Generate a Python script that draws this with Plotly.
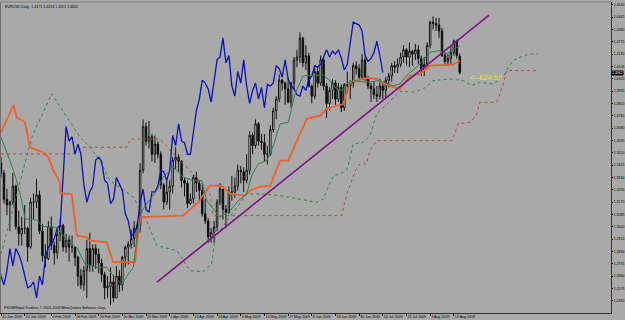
import pandas as pd
import plotly.graph_objects as go

# ---------------- data ----------------
dates = pd.bdate_range("2009-01-12", "2009-08-17")  # daily bars (weekdays)

opens = [1.3440,1.3370,1.3190,1.3150,1.3170,1.3280,1.3000,1.2950,1.2990,1.2990,
         1.2860,1.3170,1.3170,1.3220,1.2970,1.2800,1.2780,1.3000,1.2870,1.2820,
         1.2950,1.3010,1.2860,1.2910,1.2860,1.2860,1.2790,1.2660,1.2600,1.2700,
         1.2850,1.2730,1.2850,1.2810,1.2750,1.2670,1.2580,1.2590,1.2620,1.2510,
         1.2660,1.2600,1.2790,1.2860,1.2880,1.2920,1.2990,1.3010,1.3390,1.3690,
         1.3590,1.3620,1.3500,1.3570,1.3500,1.3290,1.3170,1.3240,1.3280,1.3460,
         1.3480,1.3450,1.3320,1.3300,1.3160,1.3190,1.3340,1.3300,1.3250,1.3090,
         1.3040,1.2930,1.2960,1.3000,1.3170,1.3260,1.3120,1.3100,1.3240,1.3240,
         1.3280,1.3390,1.3380,1.3320,1.3390,1.3630,1.3560,1.3710,1.3590,1.3580,
         1.3500,1.3500,1.3670,1.3800,1.3880,1.4010,1.3990,1.3950,1.3860,1.3990,
         1.4150,1.4170,1.4300,1.4130,1.4180,1.3970,1.3900,1.4070,1.3990,1.4150,
         1.3970,1.3850,1.3940,1.3990,1.3880,1.3960,1.3820,1.3980,1.3970,1.3990,
         1.4110,1.4090,1.4030,1.4150,1.4020,1.3970,1.3950,1.3910,1.3900,1.3970,
         1.3940,1.4010,1.4040,1.4110,1.4100,1.4120,1.4170,1.4220,1.4170,1.4210,
         1.4190,1.4220,1.4160,1.4080,1.4120,1.4250,1.4410,1.4400,1.4390,1.4350,
         1.4180,1.4140,1.4160,1.4200,1.4280,1.4175]
highs = [1.3480,1.3390,1.3260,1.3180,1.3370,1.3290,1.3110,1.3070,1.3150,1.3000,
         1.3200,1.3230,1.3330,1.3250,1.3020,1.2880,1.3040,1.3070,1.2900,1.2990,
         1.3050,1.3020,1.2950,1.2940,1.2940,1.2860,1.2800,1.2710,1.2730,1.2910,
         1.2960,1.2880,1.2880,1.2850,1.2780,1.2690,1.2660,1.2720,1.2670,1.2730,
         1.2700,1.2800,1.2870,1.2900,1.2980,1.3040,1.3030,1.3440,1.3740,1.3720,
         1.3730,1.3640,1.3630,1.3590,1.3520,1.3300,1.3320,1.3320,1.3480,1.3550,
         1.3500,1.3460,1.3340,1.3320,1.3230,1.3360,1.3380,1.3320,1.3290,1.3190,
         1.3060,1.2990,1.3040,1.3190,1.3300,1.3260,1.3150,1.3280,1.3350,1.3340,
         1.3430,1.3420,1.3410,1.3500,1.3660,1.3650,1.3740,1.3720,1.3640,1.3640,
         1.3560,1.3700,1.3820,1.3900,1.4050,1.4020,1.4000,1.4030,1.4000,1.4170,
         1.4220,1.4340,1.4310,1.4250,1.4200,1.3980,1.4100,1.4100,1.4180,1.4160,
         1.3990,1.3960,1.4020,1.4010,1.3990,1.3980,1.3990,1.4070,1.4010,1.4130,
         1.4140,1.4120,1.4190,1.4170,1.4040,1.3990,1.4000,1.3970,1.4020,1.4000,
         1.4030,1.4060,1.4130,1.4140,1.4160,1.4200,1.4250,1.4230,1.4270,1.4220,
         1.4260,1.4250,1.4180,1.4170,1.4270,1.4420,1.4450,1.4440,1.4440,1.4370,
         1.4200,1.4190,1.4250,1.4290,1.4290,1.4194]
lows = [1.3340,1.3160,1.3080,1.2970,1.3150,1.2980,1.2870,1.2870,1.2950,1.2760,
        1.2850,1.3050,1.3130,1.2950,1.2760,1.2720,1.2770,1.2840,1.2740,1.2780,
        1.2900,1.2830,1.2820,1.2760,1.2820,1.2730,1.2590,1.2570,1.2560,1.2510,
        1.2690,1.2690,1.2710,1.2680,1.2620,1.2500,1.2510,1.2460,1.2480,1.2510,
        1.2550,1.2560,1.2720,1.2740,1.2850,1.2860,1.2880,1.2960,1.3370,1.3560,
        1.3540,1.3450,1.3440,1.3470,1.3260,1.3120,1.3150,1.3120,1.3230,1.3400,
        1.3380,1.3270,1.3210,1.3130,1.3150,1.3160,1.3240,1.3170,1.3070,1.3020,
        1.2890,1.2890,1.2890,1.2970,1.3150,1.3050,1.2990,1.3090,1.3180,1.3200,
        1.3250,1.3300,1.3240,1.3300,1.3360,1.3500,1.3540,1.3560,1.3530,1.3450,
        1.3430,1.3490,1.3650,1.3740,1.3860,1.3940,1.3840,1.3850,1.3820,1.3950,
        1.4100,1.4130,1.4100,1.4080,1.3960,1.3850,1.3880,1.3960,1.3970,1.3940,
        1.3750,1.3800,1.3880,1.3840,1.3860,1.3790,1.3800,1.3920,1.3880,1.3960,
        1.4050,1.4010,1.4010,1.4000,1.3950,1.3860,1.3880,1.3860,1.3880,1.3880,
        1.3880,1.3960,1.4000,1.4060,1.4060,1.4100,1.4130,1.4110,1.4100,1.4110,
        1.4150,1.4120,1.4040,1.4040,1.4090,1.4230,1.4360,1.4350,1.4300,1.4170,
        1.4110,1.4110,1.4120,1.4180,1.4160,1.4051]
closes = [1.3370,1.3190,1.3150,1.3170,1.3280,1.3000,1.2950,1.2990,1.2990,1.2860,
          1.3170,1.3170,1.3220,1.2970,1.2800,1.2780,1.3000,1.2870,1.2820,1.2950,
          1.3010,1.2860,1.2910,1.2860,1.2860,1.2790,1.2660,1.2600,1.2700,1.2850,
          1.2730,1.2850,1.2810,1.2750,1.2670,1.2580,1.2590,1.2620,1.2510,1.2660,
          1.2600,1.2790,1.2860,1.2880,1.2920,1.2990,1.3010,1.3390,1.3690,1.3590,
          1.3620,1.3500,1.3570,1.3500,1.3290,1.3170,1.3240,1.3280,1.3460,1.3480,
          1.3450,1.3320,1.3300,1.3160,1.3190,1.3340,1.3300,1.3250,1.3090,1.3040,
          1.2930,1.2960,1.3000,1.3170,1.3260,1.3120,1.3100,1.3240,1.3240,1.3280,
          1.3390,1.3380,1.3320,1.3390,1.3630,1.3560,1.3710,1.3590,1.3580,1.3500,
          1.3500,1.3670,1.3800,1.3880,1.4010,1.3990,1.3950,1.3860,1.3990,1.4150,
          1.4170,1.4300,1.4130,1.4180,1.3970,1.3900,1.4070,1.3990,1.4150,1.3970,
          1.3850,1.3940,1.3990,1.3880,1.3960,1.3820,1.3980,1.3970,1.3990,1.4110,
          1.4090,1.4030,1.4150,1.4020,1.3970,1.3950,1.3910,1.3900,1.3970,1.3940,
          1.4010,1.4040,1.4110,1.4100,1.4120,1.4170,1.4220,1.4170,1.4210,1.4190,
          1.4220,1.4160,1.4080,1.4120,1.4250,1.4410,1.4400,1.4390,1.4350,1.4180,
          1.4140,1.4160,1.4200,1.4280,1.4180,1.4062]

# Ichimoku lines (bar index, price)
tenkan_x = [0,1.35,3,4.2,5.3,7,8.1,12.1,13.7,16,18.8,20.5,23.3,25.6,28.4,32.3,35.7,37.4,39.1,40.8,41.9,44.7,47,49.2,
            52.6,54.8,58.2,61.6,65,67.8,69.5,74,77.4,80.2,83,84.7,86.9,89.8,92,94.3,97.1,99.3,102.1,108.9,111.1,
            113.4,115.6,116.8,119,123.5,128,132.5,134.8,137,141.6,144.9,148.3,150.6,152.8,155]
tenkan_y = [1.3617,1.3548,1.3456,1.3387,1.3318,1.3180,1.3054,1.3047,1.3008,1.2997,1.2997,1.2951,1.2882,1.2859,
            1.2744,1.2721,1.2721,1.2675,1.2641,1.2606,1.2641,1.2721,1.3089,1.3158,1.3249,1.3342,1.3410,1.3342,
            1.3318,1.3318,1.3180,1.3066,1.3111,1.3180,1.3226,1.3352,1.3433,1.3456,1.3559,1.3709,1.3720,1.3915,
            1.4041,1.4046,1.4006,1.3950,1.3938,1.3984,1.4007,1.3996,1.4007,1.3972,1.3984,1.4041,1.4122,1.4203,
            1.4214,1.4191,1.4225,1.4248]
kijun_x = [0,4.2,5.3,8.1,9.8,14.3,16,17.7,19.9,20,23.9,25.6,29,30,35.7,37.9,45.3,47,61.6,67.2,67.8,70.6,74.6,
           77.4,82.4,84.1,87.5,90.9,94.3,97.1,101,103.3,105.5,107.8,110,115.6,117.9,123.5,126.9,129.2,132.5,
           134.8,138.2,141.6,144.9,152.7,155]
kijun_y = [1.3650,1.3840,1.3755,1.3720,1.3548,1.3514,1.3479,1.3387,1.3307,1.3231,1.3226,1.2939,1.2928,1.2905,
           1.2894,1.2756,1.2756,1.3066,1.3077,1.3180,1.3204,1.3284,1.3284,1.3226,1.3215,1.3249,1.3277,1.3281,
           1.3456,1.3456,1.3640,1.3743,1.3755,1.3766,1.3812,1.3846,1.3996,1.4026,1.4019,1.3989,1.3962,1.3950,
           1.4041,1.4053,1.4110,1.4117,1.4145]
senkou_a_x = [0,7.4,10.4,17.1,26.7,30.1,33.4,36.8,40.2,44.7,49.2,52.6,59.4,63.9,68.2,71.2,72.3,83,88.6,94.3,99.9,
              106.7,108.9,110,112.3,114.5,116.8,119,122.4,124.7,125.8,126.9,134.8,139.3,142.7,146,151.7,156.2,
              159,161.8,166.3,169.7,171.4,173.1,175.3,178.7,181.4]
senkou_a_y = [1.2810,1.3378,1.3617,1.3916,1.3617,1.3548,1.3456,1.3318,1.3272,1.3204,1.3043,1.2870,1.2836,1.2698,
              1.2689,1.2744,1.2928,1.3226,1.3226,1.3215,1.3192,1.3169,1.3192,1.3249,1.3352,1.3364,1.3387,1.3570,
              1.3582,1.3628,1.3709,1.3777,1.3934,1.3927,1.3950,1.4007,1.4019,1.4007,1.3973,1.3996,1.3984,1.4030,
              1.4099,1.4145,1.4168,1.4191,1.4191]
senkou_b_x = [0,24,27.5,32.3,42.5,43.6,53.7,61.5,63.9,68.3,70.6,71.7,115.1,116.8,120.2,121.3,123.5,124.7,126.9,
              152.4,154.4,158.8,160.7,161.8,167.5,169.7,170.8,181]
senkou_b_y = [1.3502,1.3502,1.3548,1.3548,1.3548,1.3605,1.3605,1.3433,1.3387,1.3295,1.3226,1.3077,1.3077,1.3226,
              1.3410,1.3433,1.3433,1.3525,1.3594,1.3594,1.3710,1.3722,1.3777,1.3858,1.3858,1.3984,1.4076,1.4076]
trend_x = [52.7, 164.9]
trend_y = [1.2619, 1.4459]

ytick_labels = ["1.4530","1.4445","1.4360","1.4275","1.4190","1.4105","1.4020","1.3935","1.3850","1.3765",
                "1.3680","1.3595","1.3510","1.3425","1.3340","1.3255","1.3170","1.3085","1.3000","1.2915",
                "1.2830","1.2745","1.2660","1.2575","1.2490","1.2405"]
xtick_dates = ["2009-01-12","2009-01-22","2009-02-04","2009-02-16","2009-02-26","2009-03-10","2009-03-20",
               "2009-04-01","2009-04-13","2009-04-23","2009-05-05","2009-05-15","2009-05-27","2009-06-08",
               "2009-06-18","2009-06-30","2009-07-10","2009-07-22","2009-08-03","2009-08-13"]
timer_text = "<--624:59"
chikou_shift = 26

# ---------------- figure ----------------
idx = list(range(len(dates)))
BG = "#A9A9A9"
FONT = "Liberation Sans, Arial, sans-serif"

fig = go.Figure()
fig.add_trace(go.Scatter(x=senkou_b_x, y=senkou_b_y, mode="lines",
                         line=dict(color="#A0524A", width=1, dash="dot"), hoverinfo="skip"))
fig.add_trace(go.Scatter(x=senkou_a_x, y=senkou_a_y, mode="lines",
                         line=dict(color="#3C7A4A", width=1, dash="dot"), hoverinfo="skip"))
fig.add_trace(go.Candlestick(x=idx, open=opens, high=highs, low=lows, close=closes,
                             increasing=dict(line=dict(color="#101010", width=1), fillcolor="#FFFFFF"),
                             decreasing=dict(line=dict(color="#101010", width=1), fillcolor="#000000"),
                             whiskerwidth=0, hoverinfo="skip"))
fig.add_trace(go.Scatter(x=[i - chikou_shift for i in idx], y=closes, mode="lines",
                         line=dict(color="#1010B8", width=1.3), hoverinfo="skip"))
fig.add_trace(go.Scatter(x=kijun_x, y=kijun_y, mode="lines",
                         line=dict(color="#F0602A", width=1.8), hoverinfo="skip"))
fig.add_trace(go.Scatter(x=tenkan_x, y=tenkan_y, mode="lines",
                         line=dict(color="#2E8050", width=1), hoverinfo="skip"))
fig.add_trace(go.Scatter(x=trend_x, y=trend_y, mode="lines",
                         line=dict(color="#80108A", width=1.6), hoverinfo="skip"))

xt_vals = [dates.get_loc(pd.Timestamp(d)) for d in xtick_dates]
xt_text = [f"{pd.Timestamp(d).day} {pd.Timestamp(d):%b %Y}" for d in xtick_dates]

fig.update_layout(
    width=625, height=320, margin=dict(l=0, r=14, t=2, b=7, autoexpand=False),
    paper_bgcolor=BG, plot_bgcolor=BG, showlegend=False,
    font=dict(family=FONT, size=4, color="#000000"),
    xaxis=dict(range=[-0.34, 206.1], tickmode="array", tickvals=xt_vals, ticktext=xt_text,
               tickangle=0, automargin=False,
               ticks="outside", ticklen=2, tickcolor="#000000", ticklabelposition="outside right",
               showgrid=False, zeroline=False, showline=True, linecolor="#303030", linewidth=1,
               rangeslider=dict(visible=False), tickfont=dict(size=3.6)),
    yaxis=dict(range=[1.2406, 1.4549], side="right", tickmode="array", automargin=False,
               tickvals=[float(t) for t in ytick_labels], ticktext=ytick_labels,
               ticks="outside", ticklen=1, tickcolor="#000000", showgrid=False, zeroline=False,
               showline=True, linecolor="#303030", linewidth=1, tickfont=dict(size=3.5)),
)

fig.add_annotation(text="EURUSD,Daily  1.4175 1.4194 1.4051 1.4062", xref="paper", yref="paper",
                   x=0.005, y=0.997, xanchor="left", yanchor="top", showarrow=False,
                   font=dict(size=3.6, color="#000000"))
fig.add_annotation(text="FXDM/Royal Traders, \u00a9 2001-2009 MetaQuotes Software Corp.", xref="paper",
                   yref="paper", x=0.003, y=0.003, xanchor="left", yanchor="bottom", showarrow=False,
                   font=dict(size=3.6, color="#000000"))
fig.add_annotation(text=timer_text, x=157.8, y=1.4026, xanchor="left", yanchor="middle", showarrow=False,
                   font=dict(size=7.5, color="#E8E040"))
fig.add_annotation(text=f"{closes[-1]:.4f}", x=1.0, xref="paper", y=closes[-1], xanchor="left",
                   yanchor="middle", showarrow=False, bgcolor="#000000", borderpad=0,
                   font=dict(size=3.5, color="#FFFFFF"))
fig.add_shape(type="line", xref="paper", yref="paper", x0=0, x1=0, y0=0, y1=1,
              line=dict(color="#707070", width=2))
fig.add_shape(type="line", xref="paper", yref="paper", x0=0, x1=1, y0=1, y1=1,
              line=dict(color="#808080", width=1))

fig.write_html("out.html")
